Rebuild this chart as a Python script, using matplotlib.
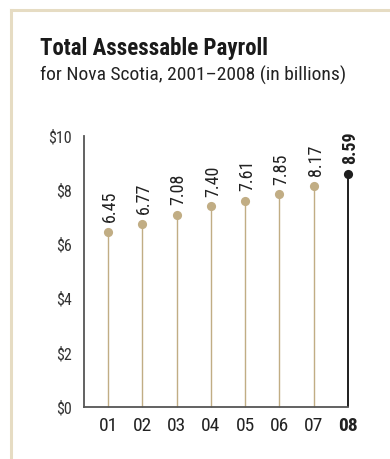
import matplotlib.pyplot as plt
from matplotlib.lines import Line2D

# Payroll totals, Nova Scotia (billions of dollars)
years = ["01", "02", "03", "04", "05", "06", "07", "08"]
payroll = [6.45, 6.77, 7.08, 7.40, 7.61, 7.85, 8.17, 8.59]
y_ticks = [0, 2, 4, 6, 8, 10]
y_tick_labels = ["$0", "$2", "$4", "$6", "$8", "$10"]

plt.rcParams['font.family'] = ['Roboto Condensed', 'Roboto', 'DejaVu Sans']

W, H = 390, 459
fig = plt.figure(figsize=(W / 100, H / 100), dpi=100)
fig.patch.set_facecolor('white')

tan = '#C1AD84'
dark = '#1e1e1e'
spine = '#555555'
border = '#E6DCC3'

# light frame along top and left
fig.add_artist(Line2D([11 / W, 1], [1 - 10 / H, 1 - 10 / H], color=border, lw=2.2))
fig.add_artist(Line2D([11 / W, 11 / W], [0, 1 - 10 / H], color=border, lw=2.2))

fig.text(40 / W, 1 - 55 / H, "Total Assessable Payroll", fontsize=16.5,
         fontweight='bold', color='#1a1a1a', ha='left', va='baseline')
fig.text(40 / W, 1 - 81 / H, "for Nova Scotia, 2001\u20132008 (in billions)",
         fontsize=14, color='#222222', ha='left', va='baseline')

left, right = 84, 348
top, bottom = 136, 407
ax = fig.add_axes([left / W, 1 - bottom / H, (right - left) / W, (bottom - top) / H])
ax.set_facecolor('none')

x = list(range(len(years)))
ax.set_xlim(-0.70, len(years) - 1)
ax.set_ylim(0, 10)

for i, v in enumerate(payroll):
    last = i == len(payroll) - 1
    c = dark if last else tan
    ax.vlines(i, 0, v, color=c, lw=1.4 if last else 1.0, clip_on=False, zorder=2)
    ax.plot(i, v, 'o', color=c, ms=6.6, mec='none', clip_on=False, zorder=3)
    ax.annotate(f"{v:.2f}", (i, v), xytext=(1.5, 7), textcoords='offset points',
                rotation=90, ha='center', va='bottom', fontsize=13,
                fontweight='bold' if last else 'normal', color=dark if last else '#222222')

ax.set_yticks(y_ticks)
ax.set_yticklabels(y_tick_labels, fontsize=11.5, color='#333333')
ax.set_xticks(x)
ax.set_xticklabels(years, fontsize=14, color='#222222')
ax.get_xticklabels()[-1].set_fontweight('bold')
ax.tick_params(axis='y', length=0, pad=9)
ax.tick_params(axis='x', length=0, pad=7)

for s in ['top', 'right']:
    ax.spines[s].set_visible(False)
for s in ['left', 'bottom']:
    ax.spines[s].set_color(spine)
    ax.spines[s].set_linewidth(1.3)

fig.savefig('out.png', dpi=100)
